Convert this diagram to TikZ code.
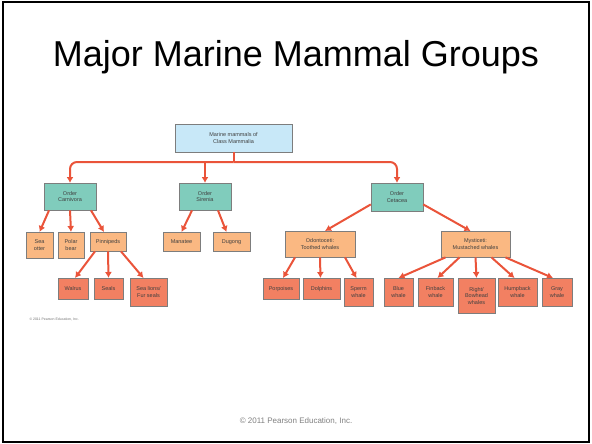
\documentclass[tikz,border=0pt]{standalone}
\usepackage{fontspec}
\setmainfont{Liberation Sans}
\usetikzlibrary{positioning,arrows.meta}
\definecolor{boxline}{RGB}{125,125,125}
\definecolor{topfill}{RGB}{200,232,248}
\definecolor{orderfill}{RGB}{128,204,188}
\definecolor{groupfill}{RGB}{250,184,130}
\definecolor{kindfill}{RGB}{242,128,98}
\definecolor{arrowred}{RGB}{234,84,58}
\tikzstyle{toplevel} = [rectangle, draw=boxline, fill=topfill, minimum width=117pt, minimum height=28pt, align=center, font=\fontsize{5.5}{6.5}\selectfont, text=black!75]
\tikzstyle{order} = [rectangle, draw=boxline, fill=orderfill, minimum width=52pt, minimum height=27pt, align=center, font=\fontsize{5.5}{6.5}\selectfont, text=black!75, anchor=north]
\tikzstyle{group} = [rectangle, draw=boxline, fill=groupfill, minimum height=19pt, align=center, font=\fontsize{5.5}{6.5}\selectfont, text=black!75, anchor=north, inner sep=1pt]
\tikzstyle{kind} = [rectangle, draw=boxline, fill=kindfill, minimum height=21pt, align=center, font=\fontsize{5.5}{6.5}\selectfont, text=black!75, anchor=north, inner sep=1pt]
\tikzstyle{arr} = [draw=arrowred, line width=2pt, -{Latex[length=6pt,width=7pt]}]
\tikzstyle{stem} = [draw=arrowred, line width=2pt]

\begin{document}
\begin{tikzpicture}[x=1pt,y=-1pt]
    \useasboundingbox (0,0) rectangle (592,444);
    \draw[line width=2.5pt] (3,2) rectangle (589,442);

    \node(title) at (296,57) {\fontsize{36}{40}\selectfont Major Marine Mammal Groups};

    \node(top)[toplevel] at (233.5,138) {Marine mammals of\\Class Mammalia};

    \node(carn)[order] at (70,183) {Order\\Carnivora};
    \node(sir)[order] at (205,183) {Order\\Sirenia};
    \node(cet)[order, minimum height=28pt] at (397,183) {Order\\Cetacea};

    \node(otter)[group, minimum width=27pt, minimum height=26pt] at (39.5,232) {Sea\\otter};
    \node(polar)[group, minimum width=26pt, minimum height=26pt] at (71,232) {Polar\\bear};
    \node(pinn)[group, minimum width=36pt] at (108,232) {Pinnipeds};
    \node(manatee)[group, minimum width=37pt] at (181.5,232) {Manatee};
    \node(dugong)[group, minimum width=37pt] at (231.5,232) {Dugong};
    \node(odont)[group, minimum width=70pt, minimum height=26pt] at (320,231) {Odontoceti:\\Toothed whales};
    \node(myst)[group, minimum width=69pt, minimum height=26pt] at (475.5,231) {Mysticeti:\\Mustached whales};

    \node(walrus)[kind, minimum width=30pt] at (73,278) {Walrus};
    \node(seals)[kind, minimum width=29pt] at (108.5,278) {Seals};
    \node(sealions)[kind, minimum width=37pt, minimum height=28pt] at (148.5,278) {Sea lions/\\Fur seals};
    \node(porp)[kind, minimum width=36pt] at (281,278) {Porpoises};
    \node(dolph)[kind, minimum width=37pt] at (321.5,278) {Dolphins};
    \node(sperm)[kind, minimum width=29pt, minimum height=28pt] at (358.5,278) {Sperm\\whale};
    \node(blue)[kind, minimum width=29pt, minimum height=28pt] at (398.5,278) {Blue\\whale};
    \node(finback)[kind, minimum width=35pt, minimum height=28pt] at (435.5,278) {Finback\\whale};
    \node(right)[kind, minimum width=37pt, minimum height=35pt] at (476.5,278) {Right/\\Bowhead\\whales};
    \node(hump)[kind, minimum width=39pt, minimum height=28pt] at (517.5,278) {Humpback\\whale};
    \node(gray)[kind, minimum width=30pt, minimum height=28pt] at (557,278) {Gray\\whale};

    \coordinate(split) at (233.5,162);

    \draw[stem] (top.south) -- (split);
    \draw[arr, rounded corners=7pt] (split) -| (carn.north);
    \draw[arr, rounded corners=7pt] (split) -| (cet.north);
    \draw[arr] (sir.north |- split) -- (sir.north);

    \draw[arr] ([xshift=-21pt]carn.south) -- (otter.north);
    \draw[arr] (carn.south) -- (polar.north);
    \draw[arr] ([xshift=21pt]carn.south) -- ([xshift=-4pt]pinn.north);
    \draw[arr] ([xshift=-13pt]sir.south) -- (manatee.north);
    \draw[arr] ([xshift=13pt]sir.south) -- ([xshift=-5pt]dugong.north);

    \draw[arr] ([xshift=-13pt]pinn.south) -- ([xshift=2pt]walrus.north);
    \draw[arr] (pinn.south) -- (seals.north);
    \draw[arr] ([xshift=13pt]pinn.south) -- ([xshift=-5pt]sealions.north);

    \draw[arr] ([yshift=7pt]cet.south west) -- ([xshift=5pt]odont.north);
    \draw[arr] ([yshift=7pt]cet.south east) -- ([xshift=-5pt]myst.north);

    \draw[arr] ([xshift=-25pt]odont.south) -- ([xshift=2pt]porp.north);
    \draw[arr] (odont.south) -- ([xshift=-1pt]dolph.north);
    \draw[arr] ([xshift=25pt]odont.south) -- ([xshift=-2pt]sperm.north);

    \draw[arr] ([xshift=-30pt]myst.south) -- (blue.north);
    \draw[arr] ([xshift=-16pt]myst.south) -- ([xshift=2pt]finback.north);
    \draw[arr] (myst.south) -- (right.north);
    \draw[arr] ([xshift=16pt]myst.south) -- ([xshift=-3pt]hump.north);
    \draw[arr] ([xshift=30pt]myst.south) -- ([xshift=-4pt]gray.north);

    \node(smallcopy)[anchor=west, text=black!55, font=\fontsize{3.5}{4}\selectfont] at (26,319) {\textcopyright{} 2011 Pearson Education, Inc.};
    \node(copy)[text=black!50, font=\fontsize{8}{9}\selectfont] at (296,421) {\textcopyright{} 2011 Pearson Education, Inc.};
\end{tikzpicture}
\end{document}
